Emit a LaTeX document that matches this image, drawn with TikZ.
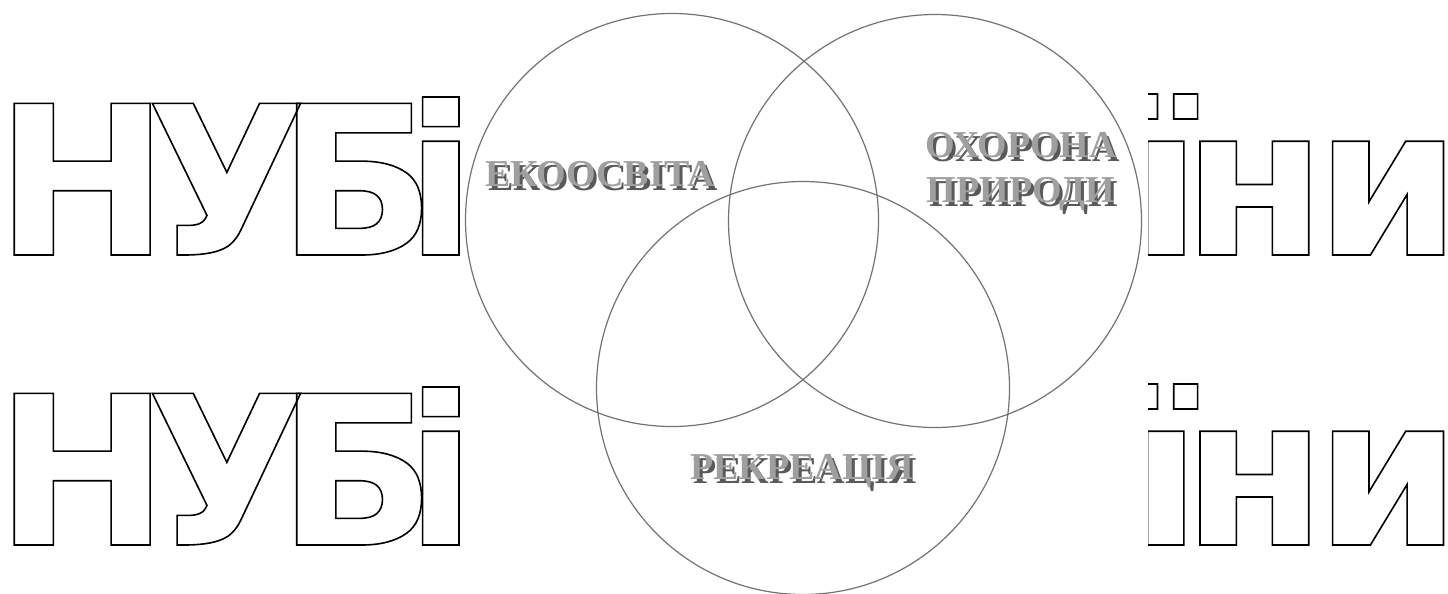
\documentclass[tikz,border=0pt]{standalone}
\usepackage{fontspec}
\setmainfont{Liberation Serif}
\newfontfamily\wmfont{DejaVu Sans}
% outlined (hollow) letters for the watermark
\newcommand{\hollow}[1]{\special{pdf:literal direct 1 Tr 1.6 w}#1\special{pdf:literal direct 0 Tr}}
% gray letters with a dark drop shadow
\newcommand{\shadowed}[1]{\makebox[0pt][l]{\hspace{3pt}\raisebox{-4pt}{\color{black!65}#1}}{\color{gray!75}#1}}

\begin{document}
\begin{tikzpicture}[x=1pt, y=-1pt,
    ring/.style={circle, draw=black!55, line width=1.2pt, minimum size=413pt, inner sep=0pt},
    wmark/.style={inner sep=0pt, font=\wmfont\bfseries\fontsize{208}{208}\selectfont},
    area/.style={inner sep=0pt, align=center, font=\bfseries\fontsize{38}{45}\selectfont}]
    \useasboundingbox (0,0) rectangle (1448,594);

    % watermark, two lines
    \node[wmark, anchor=base west] (nubA) at (15,255) {\hollow{\kern-20pt Н\kern-23pt У\kern-29pt Б\kern-31pt і}};
    \node[wmark, anchor=base east] (ukrA) at (1443,255) {\hollow{ї\kern-19pt н\kern-11pt и\kern-18pt}};
    \node[wmark, anchor=base west] (nubB) at (15,545) {\hollow{\kern-20pt Н\kern-23pt У\kern-29pt Б\kern-31pt і}};
    \node[wmark, anchor=base east] (ukrB) at (1443,545) {\hollow{ї\kern-19pt н\kern-11pt и\kern-18pt}};

    % the diagram covers the middle of the watermark
    \fill[white] (460,0) rectangle (1148,594);

    % three overlapping areas
    \node[ring] (cEko) at (672,220) {};
    \node[ring] (cPryr) at (935,221) {};
    \node[ring] (cRekr) at (803,388) {};

    \node[area] (eko) at (600,176) {\shadowed{ЕКООСВІТА}};
    \node[area] (pryr) at (1021,173) {\shadowed{ОХОРОНА}\\\shadowed{ПРИРОДИ}};
    \node[area] (rekr) at (802,473) {\shadowed{РЕКРЕАЦІЯ}};
\end{tikzpicture}
\end{document}
